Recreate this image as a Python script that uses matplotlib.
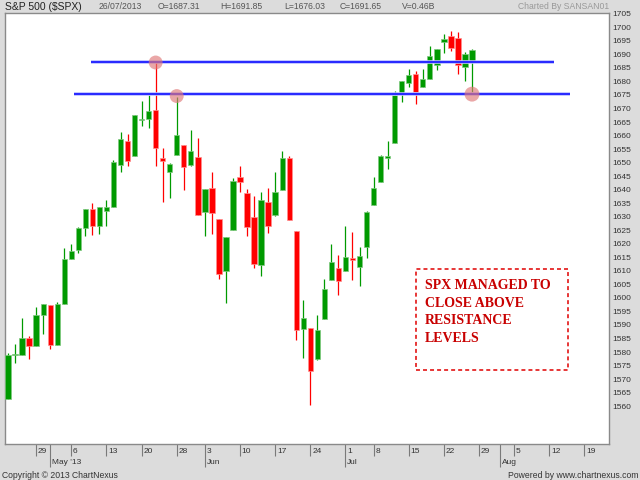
import matplotlib
matplotlib.use("Agg")
import matplotlib.pyplot as plt
import numpy as np
import pandas as pd

# S&P 500 daily candles, 23 Apr 2013 .. 26 Jul 2013
opens = [1562.50, 1578.78, 1578.93, 1585.16, 1582.34, 1593.58, 1597.55, 1582.77, 1597.60, 1614.40,
         1617.55, 1625.95, 1632.69, 1626.69, 1632.10, 1633.75, 1649.13, 1658.07, 1652.45, 1665.71,
         1666.20, 1669.39, 1651.62, 1646.67, 1652.63, 1656.57, 1649.14, 1652.13, 1631.71, 1640.73,
         1629.05, 1609.94, 1625.27, 1644.67, 1638.64, 1629.94, 1612.15, 1635.52, 1630.64, 1639.77,
         1651.83, 1624.62, 1588.62, 1588.77, 1577.52, 1592.27, 1606.44, 1611.12, 1609.78, 1614.29,
         1611.48, 1618.65, 1634.20, 1642.89, 1651.56, 1657.41, 1675.26, 1679.59, 1682.70, 1677.91,
         1681.05, 1686.15, 1694.41, 1696.63, 1696.06, 1685.21, 1687.31]
highs = [1579.58, 1583.00, 1592.64, 1585.78, 1596.65, 1597.57, 1597.55, 1598.60, 1618.46, 1619.77,
         1626.03, 1632.78, 1635.01, 1633.70, 1636.00, 1651.10, 1661.49, 1660.51, 1667.47, 1672.84,
         1674.93, 1687.18, 1655.50, 1649.78, 1674.21, 1656.57, 1661.91, 1658.99, 1640.42, 1646.53,
         1629.31, 1622.56, 1644.40, 1648.69, 1640.13, 1637.71, 1639.25, 1640.80, 1646.50, 1654.19,
         1652.45, 1624.62, 1599.19, 1588.77, 1593.79, 1606.83, 1620.07, 1615.94, 1626.61, 1624.26,
         1618.97, 1632.07, 1644.68, 1652.84, 1657.92, 1676.63, 1680.19, 1684.51, 1683.73, 1684.75,
         1693.12, 1692.09, 1697.61, 1698.78, 1698.38, 1690.94, 1691.85]
lows = [1562.50, 1575.80, 1578.93, 1577.56, 1582.34, 1586.50, 1581.28, 1582.77, 1597.60, 1614.21,
        1616.64, 1622.70, 1623.09, 1623.71, 1626.74, 1633.75, 1646.68, 1648.60, 1652.45, 1663.52,
        1662.67, 1648.86, 1635.53, 1636.88, 1652.63, 1640.05, 1648.61, 1630.74, 1622.72, 1623.62,
        1607.09, 1598.23, 1625.27, 1639.26, 1622.92, 1610.92, 1608.07, 1623.96, 1630.34, 1639.77,
        1628.91, 1584.32, 1577.70, 1560.33, 1577.09, 1592.27, 1606.44, 1601.06, 1609.78, 1606.77,
        1604.57, 1614.71, 1634.20, 1642.89, 1647.66, 1657.41, 1672.33, 1677.89, 1671.84, 1677.91,
        1681.05, 1684.08, 1690.67, 1691.13, 1682.57, 1680.07, 1676.03]
closes = [1578.78, 1578.79, 1585.16, 1582.24, 1593.61, 1597.57, 1582.70, 1597.59, 1614.42, 1617.50,
          1625.96, 1632.69, 1626.67, 1633.70, 1633.77, 1650.34, 1658.78, 1650.47, 1667.47, 1666.29,
          1669.16, 1655.35, 1650.51, 1649.60, 1660.06, 1648.36, 1654.41, 1630.74, 1640.42, 1631.38,
          1608.90, 1622.56, 1643.38, 1642.81, 1626.13, 1612.52, 1636.36, 1626.73, 1639.04, 1651.81,
          1628.93, 1588.19, 1592.43, 1573.09, 1588.03, 1603.26, 1613.20, 1606.28, 1614.96, 1614.08,
          1615.41, 1631.89, 1640.46, 1652.32, 1652.62, 1675.02, 1680.19, 1682.50, 1676.26, 1680.91,
          1689.37, 1692.09, 1695.53, 1692.39, 1685.94, 1690.25, 1691.65]

# drawn resistance lines (level, start bar, end bar) and touch points
res_levels = [1687.1, 1675.2]
res_start = [11.8, 9.4]
res_end = [77.6, 79.9]
touch_x = [21, 24, 66]
touch_y = [1687.0, 1674.6, 1675.3]

note = "SPX MANAGED TO\nCLOSE ABOVE\nRESISTANCE\nLEVELS"

# trading days for the axis (holidays dropped)
days = pd.bdate_range("2013-04-23", "2013-08-30")
days = days.drop(pd.to_datetime(["2013-05-27", "2013-07-04"]))

GREEN = "#009a00"
RED = "#ff0000"
plt.rcParams["font.family"] = ["Liberation Sans", "DejaVu Sans"]

fig = plt.figure(figsize=(6.4, 4.8), dpi=100, facecolor="#dcdcdc")
ax = fig.add_axes([5 / 640, 35.7 / 480, 604.3 / 640, 431.6 / 480])
ax.set_facecolor("white")

x = np.arange(len(closes))
o = np.array(opens)
c = np.array(closes)
up = c >= o
cols = np.where(up, GREEN, RED)
edge = np.where(up, "#80c880", "#ff9090")

ax.vlines(x, lows, highs, colors=cols, lw=0.9, zorder=2)
body = np.maximum(np.abs(c - o), 0.5)
ax.bar(x, body, bottom=np.minimum(o, c), width=0.76, color=cols,
       edgecolor=edge, linewidth=0.5, zorder=3)

# resistance lines with a soft halo
for lvl, x0, x1 in zip(res_levels, res_start, res_end):
    ax.hlines(lvl, x0, x1, colors="#b8bcff", lw=2.6, zorder=4)
    ax.hlines(lvl, x0, x1, colors="#0000ff", lw=1.1, zorder=5)

ax.scatter(touch_x, touch_y, s=[100, 100, 115], color="#e07878", alpha=0.65,
           edgecolors="none", zorder=6)

# note box
ax.add_patch(plt.Rectangle((58.0, 1573.4), 21.7, 37.3, fill=False, edgecolor="#e00000",
                           lw=1.1, linestyle=(0, (2.6, 2.0)), zorder=7))
ax.text(59.3, 1607.0, note, family=["Liberation Serif", "DejaVu Serif"], fontweight="bold",
        fontsize=10, color="#c80000", va="top", ha="left", linespacing=1.46, zorder=8)

ax.set_xlim(-0.43, 85.53)
ax.set_ylim(1545.9, 1705.4)

# price axis on the right
ax.yaxis.tick_right()
ax.set_yticks(np.arange(1560, 1706, 5))
ax.tick_params(axis="y", length=0, pad=2.2, labelsize=6, labelcolor="#333333")

# date axis: months long ticks, weeks short ticks
week_ticks = [i for i in range(1, len(days))
              if days[i].weekday() < days[i - 1].weekday() and i < 85.5]
month_ticks = [i for i in range(1, len(days))
               if days[i].month != days[i - 1].month and i < 85.5]
ax.set_xticks(month_ticks)
ax.set_xticks(week_ticks, minor=True)
ax.set_xticklabels([])
ax.tick_params(axis="x", which="major", length=16.2, width=0.8, color="#7a7a7a")
ax.tick_params(axis="x", which="minor", length=8.6, width=0.8, color="#7a7a7a")

for i in week_ticks:
    ax.annotate(str(days[i].day), xy=(i, 0), xycoords=("data", "axes fraction"),
                xytext=(1.3, -5.3), textcoords="offset points", ha="left", va="center",
                fontsize=6, color="#333333", annotation_clip=False)
for k, i in enumerate(month_ticks):
    lab = days[i].strftime("%b") + (days[i].strftime(" '%y") if k == 0 else "")
    ax.annotate(lab, xy=(i, 0), xycoords=("data", "axes fraction"),
                xytext=(1.3, -13.0), textcoords="offset points", ha="left", va="center",
                fontsize=6, color="#333333", annotation_clip=False)

for s in ax.spines.values():
    s.set_color("#8a8a8a")
    s.set_linewidth(1.0)

# header and footer
ty = 1 - 6.7 / 480
fig.text(5 / 640, ty, "S&P 500 ($SPX)", fontsize=7.5, color="#222222", va="center")
head = [("26/07/2013", 99), ("O=1687.31", 158), ("H=1691.85", 220), ("L=1676.03", 284),
        ("C=1691.65", 340), ("V=0.46B", 402)]
for t, px in head:
    fig.text(px / 640, ty, t, fontsize=6.2, color="#555555", va="center")
fig.text(609 / 640, ty, "Charted By SANSAN01", fontsize=6.2, color="#999999",
         va="center", ha="right")
fig.text(2 / 640, 5 / 480, "Copyright \u00a9 2013 ChartNexus", fontsize=6.2,
         color="#333333", va="center")
fig.text(638 / 640, 5 / 480, "Powered by www.chartnexus.com", fontsize=6.2,
         color="#333333", va="center", ha="right")

fig.savefig("out.png", dpi=100, facecolor=fig.get_facecolor())
